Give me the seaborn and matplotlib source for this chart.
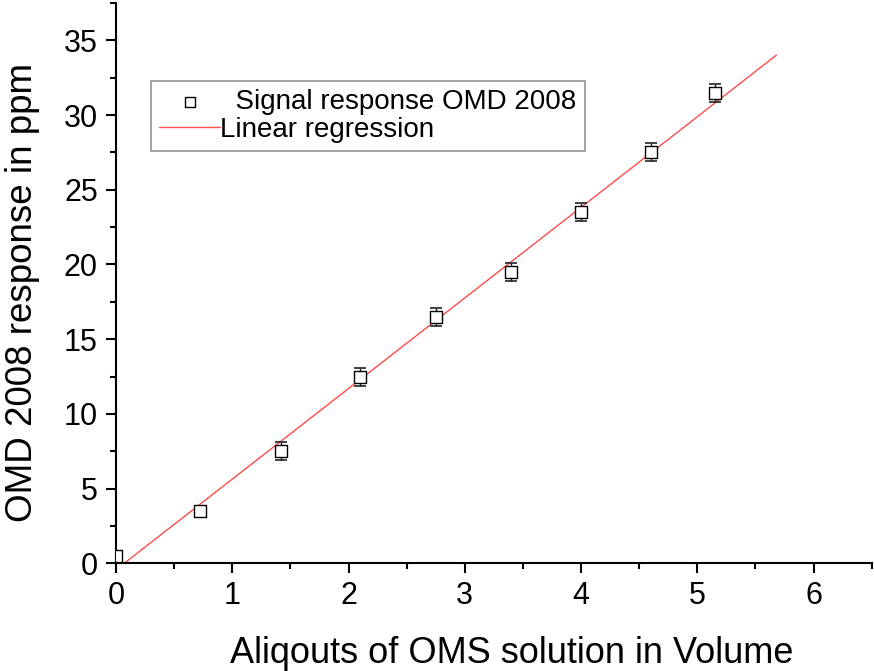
import numpy as np
import pandas as pd
import matplotlib
matplotlib.use("Agg")
import matplotlib.pyplot as plt
import seaborn as sns

# --- data ---
aliquots = [0.0, 0.72, 1.42, 2.10, 2.75, 3.40, 4.00, 4.60, 5.15]
response_ppm = [0.5, 3.5, 7.5, 12.5, 16.5, 19.5, 23.5, 27.5, 31.5]
response_err = [0.0, 0.0, 0.6, 0.6, 0.6, 0.6, 0.6, 0.6, 0.6]
fit_x_range = [0.0, 5.68]

x_ticks = [0, 1, 2, 3, 4, 5, 6]
y_ticks = [0, 5, 10, 15, 20, 25, 30, 35]

sns.set_theme(style="ticks")
plt.rcParams['font.family'] = ['Liberation Sans', 'DejaVu Sans']
plt.rcParams['text.color'] = 'black'
plt.rcParams['axes.labelcolor'] = 'black'
plt.rcParams['xtick.color'] = 'black'
plt.rcParams['ytick.color'] = 'black'

df = pd.DataFrame({'x': aliquots, 'y': response_ppm, 'err': response_err})

# linear regression through the points
slope, intercept = np.polyfit(df['x'], df['y'], 1)
fit_df = pd.DataFrame({'x': fit_x_range})
fit_df['y'] = slope * fit_df['x'] + intercept

fig = plt.figure(figsize=(8.74, 6.71), dpi=100)
ax = fig.add_axes([0.1327, 0.1605, 0.8647, 0.835])

ax.errorbar(df['x'], df['y'], yerr=df['err'], fmt='none', ecolor='#222222',
            elinewidth=1.0, capsize=4.5, capthick=1.2, zorder=3)
sns.scatterplot(data=df, x='x', y='y', marker='s', s=75, facecolor='white',
                edgecolor='black', linewidth=1.0, ax=ax, zorder=4,
                label='  Signal response OMD 2008')
sns.lineplot(data=fit_df, x='x', y='y', color='#ff4a4a', linewidth=1.0, ax=ax,
             zorder=2, label='Linear regression')

ax.set_xlim(0, 6.5)
ax.set_ylim(0, 37.5)
ax.set_xticks(x_ticks)
ax.set_yticks(y_ticks)
ax.set_xticks(np.arange(0.5, 6.6, 1.0), minor=True)
ax.set_yticks(np.arange(2.5, 37.6, 5.0), minor=True)
ax.tick_params(axis='both', which='major', direction='out', length=7, width=1.5,
               labelsize=22, color='black', labelcolor='black', pad=6)
ax.tick_params(axis='both', which='minor', direction='out', length=4, width=1.5,
               color='black')

sns.despine(ax=ax)
for side in ['left', 'bottom']:
    ax.spines[side].set_color('black')
    ax.spines[side].set_linewidth(1.5)

ax.set_xlabel('Aliqouts of OMS solution in Volume', fontsize=26)
ax.set_ylabel('OMD 2008 response in ppm', fontsize=26.5)
ax.xaxis.set_label_coords(0.523, -0.13)
ax.yaxis.set_label_coords(-0.100, 0.484)

# legend
handles, labels = ax.get_legend_handles_labels()
leg = ax.legend(handles, labels, loc='upper left', bbox_to_anchor=(0.046, 0.861),
                fontsize=20, frameon=True, fancybox=False, edgecolor='#777777',
                handlelength=2.2, handletextpad=0.0, borderpad=0.3,
                borderaxespad=0.0, labelspacing=0.05, markerscale=0.85)
leg.get_frame().set_linewidth(1.2)

plt.savefig('out.png', dpi=100)
